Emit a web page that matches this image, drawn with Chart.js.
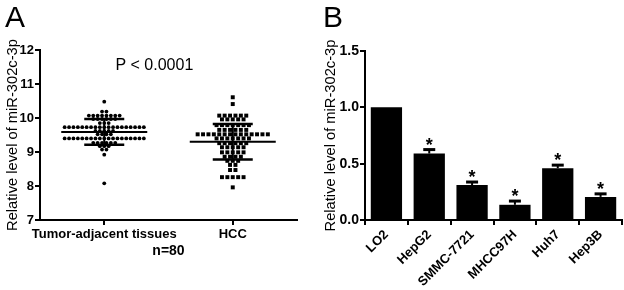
<!DOCTYPE html>
<html>
<head>
<meta charset="utf-8">
<script src="https://cdn.jsdelivr.net/npm/chart.js@4.4.0/dist/chart.umd.min.js"></script>
<style>
  body { margin: 0; background: #fff; width: 624px; height: 290px; position: relative; overflow: hidden;
         font-family: Arial, "Liberation Sans", sans-serif; }
  canvas { position: absolute; top: 0; }
  #chartA { left: 0; width: 318px; height: 290px; }
  #chartB { left: 318px; width: 306px; height: 290px; }
  .panel { position: absolute; font-size: 30px; line-height: 30px; color: #000; z-index: 2; }
</style>
</head>
<body>
<div class="panel" style="left:5px; top:2px;">A</div>
<div class="panel" style="left:323px; top:2px;">B</div>
<canvas id="chartA" width="318" height="290"></canvas>
<canvas id="chartB" width="306" height="290"></canvas>
<script>
// --- panel A : scatter dot plot ---
const groupsA = ['Tumor-adjacent tissues', 'HCC'];
const adjacentValues = [
  10.48,
  10.19, 10.19,
  10.07, 10.07, 10.07, 10.07, 10.07, 10.07, 10.07, 10.07,
  9.97, 9.97, 9.97, 9.97, 9.97, 9.97,
  9.85, 9.85, 9.85,
  9.73, 9.73, 9.73, 9.73, 9.73, 9.73, 9.73, 9.73, 9.73, 9.73, 9.73, 9.73, 9.73, 9.73, 9.73, 9.73, 9.73, 9.73, 9.73,
  9.62, 9.62, 9.62, 9.62, 9.62,
  9.52, 9.52, 9.52, 9.52,
  9.40, 9.40, 9.40, 9.40, 9.40, 9.40, 9.40, 9.40, 9.40, 9.40, 9.40, 9.40, 9.40, 9.40, 9.40, 9.40, 9.40, 9.40, 9.40,
  9.27, 9.27, 9.27, 9.27, 9.27, 9.27,
  9.17, 9.17, 9.17,
  9.07, 9.07,
  8.92,
  8.08
];
const hccValues = [
  10.61,
  10.41,
  10.07, 10.07, 10.07, 10.07, 10.07, 10.07,
  9.96, 9.96, 9.96, 9.96, 9.96,
  9.79, 9.79, 9.79, 9.79, 9.79, 9.79, 9.79,
  9.65, 9.65, 9.65, 9.65, 9.65, 9.65,
  9.52, 9.52, 9.52, 9.52, 9.52, 9.52, 9.52, 9.52, 9.52, 9.52, 9.52, 9.52, 9.52, 9.52,
  9.40, 9.40, 9.40, 9.40, 9.40, 9.40, 9.40,
  9.26, 9.26, 9.26, 9.26, 9.26, 9.26,
  9.14, 9.14, 9.14, 9.14, 9.14,
  8.99, 8.99, 8.99, 8.99, 8.99,
  8.86, 8.86, 8.86, 8.86,
  8.74, 8.74, 8.74,
  8.62, 8.62,
  8.47, 8.47,
  8.26, 8.26, 8.26, 8.26, 8.26,
  7.96
];
const groupMeans = [9.59, 9.30];
const groupSDs = [0.38, 0.52];
const pValueText = 'P < 0.0001';
const sampleText = 'n=80';

// --- panel B : bar chart ---
const cellLines = ['LO2', 'HepG2', 'SMMC-7721', 'MHCC97H', 'Huh7', 'Hep3B'];
const relLevels = [1.0, 0.59, 0.31, 0.135, 0.46, 0.205];
const relErrors = [0, 0.035, 0.027, 0.033, 0.027, 0.027];
const significant = [false, true, true, true, true, true];

const FONT = 'Arial, "Liberation Sans", sans-serif';
const axisGrid = { drawOnChartArea: false, drawTicks: true, tickLength: 5, color: '#000', lineWidth: 2 };
const axisBorder = { color: '#000', width: 2 };

// mean and SD lines over the dots
const meanSdPlugin = {
  id: 'meanSd',
  afterDatasetsDraw(chart) {
    const { ctx, scales: { x, y } } = chart;
    ctx.save();
    ctx.strokeStyle = '#000';
    groupMeans.forEach((m, i) => {
      const cx = x.getPixelForValue(i + 1);
      const my = y.getPixelForValue(m);
      const hi = y.getPixelForValue(m + groupSDs[i]);
      const lo = y.getPixelForValue(m - groupSDs[i]);
      ctx.lineWidth = 2;
      ctx.beginPath();
      ctx.moveTo(cx - 43, my); ctx.lineTo(cx + 43, my);
      ctx.moveTo(cx, hi); ctx.lineTo(cx, lo);
      ctx.stroke();
      ctx.lineWidth = 2.5;
      ctx.beginPath();
      ctx.moveTo(cx - 20, hi); ctx.lineTo(cx + 20, hi);
      ctx.moveTo(cx - 20, lo); ctx.lineTo(cx + 20, lo);
      ctx.stroke();
    });
    ctx.fillStyle = '#000';
    ctx.font = '16px ' + FONT;
    ctx.textAlign = 'center';
    ctx.textBaseline = 'middle';
    ctx.fillText(pValueText, x.getPixelForValue(1.39), y.getPixelForValue(11.53));
    ctx.restore();
  }
};

const chartA = new Chart(document.getElementById('chartA'), {
  type: 'scatter',
  data: {
    datasets: [
      { data: adjacentValues.map(v => ({ x: 1, y: v })), pointStyle: 'circle', pointRadius: 1.9,
        backgroundColor: '#000', borderWidth: 0 },
      { data: hccValues.map(v => ({ x: 2, y: v })), pointStyle: 'rect', pointRadius: 2.8,
        backgroundColor: '#000', borderWidth: 0 }
    ]
  },
  options: {
    responsive: false,
    animation: false,
    events: [],
    layout: { padding: { top: 50, right: 21, left: 0, bottom: 0 } },
    plugins: { legend: { display: false }, tooltip: { enabled: false } },
    scales: {
      x: {
        type: 'linear', min: 0.5, max: 2.5,
        afterBuildTicks: s => { s.ticks = [{ value: 1 }, { value: 2 }]; },
        afterFit: s => { s.height = 70; },
        ticks: { callback: v => groupsA[v - 1], autoSkip: false, maxRotation: 0, padding: 2,
                 color: '#000', font: { family: FONT, size: 13, weight: 'bold' } },
        grid: axisGrid, border: axisBorder,
        title: { display: true, text: sampleText, color: '#000', padding: { top: 0, bottom: 30 },
                 font: { family: FONT, size: 14, weight: 'bold' } }
      },
      y: {
        min: 7, max: 12,
        afterFit: s => { s.width = 40; },
        ticks: { stepSize: 1, padding: 1, color: '#000', font: { family: FONT, size: 13, weight: 'bold' } },
        grid: axisGrid, border: axisBorder,
        title: { display: true, text: 'Relative level of miR-302c-3p', color: '#000',
                 font: { family: FONT, size: 14.7 } }
      }
    }
  },
  plugins: [meanSdPlugin]
});

// spread equal values side by side, like a scatter dot plot
function spreadRows(chart, gaps) {
  const xs = chart.scales.x;
  chart.data.datasets.forEach((ds, i) => {
    const cx = xs.getPixelForValue(i + 1);
    const rows = {};
    ds.data.forEach(pt => { (rows[pt.y] = rows[pt.y] || []).push(pt); });
    Object.values(rows).forEach(row => {
      row.forEach((pt, k) => {
        pt.x = xs.getValueForPixel(cx + (k - (row.length - 1) / 2) * gaps[i]);
      });
    });
  });
  chart.update('none');
}
spreadRows(chartA, [4.4, 5.4]);

// error bars and asterisks for panel B
const errorPlugin = {
  id: 'errorBars',
  afterDatasetsDraw(chart) {
    const { ctx, scales: { x, y } } = chart;
    ctx.save();
    ctx.strokeStyle = '#000';
    ctx.fillStyle = '#000';
    ctx.font = 'bold 18px ' + FONT;
    ctx.textAlign = 'center';
    ctx.textBaseline = 'alphabetic';
    relLevels.forEach((v, i) => {
      const cx = x.getPixelForValue(i);
      const base = y.getPixelForValue(v);
      const top = y.getPixelForValue(v + relErrors[i]);
      if (relErrors[i] > 0) {
        ctx.lineWidth = 2;
        ctx.beginPath(); ctx.moveTo(cx, base); ctx.lineTo(cx, top); ctx.stroke();
        ctx.lineWidth = 3;
        ctx.beginPath(); ctx.moveTo(cx - 6, top); ctx.lineTo(cx + 6, top); ctx.stroke();
      }
      if (significant[i]) ctx.fillText('*', cx, top + 1);
    });
    ctx.restore();
  }
};

new Chart(document.getElementById('chartB'), {
  type: 'bar',
  data: {
    labels: cellLines,
    datasets: [{ data: relLevels, backgroundColor: '#000', borderWidth: 0,
                 categoryPercentage: 1, barPercentage: 0.73 }]
  },
  options: {
    responsive: false,
    animation: false,
    events: [],
    layout: { padding: { top: 51, right: 2, left: 0, bottom: 0 } },
    plugins: { legend: { display: false }, tooltip: { enabled: false } },
    scales: {
      x: {
        afterFit: s => { s.height = 70; },
        ticks: { minRotation: 45, maxRotation: 45, autoSkip: false, padding: 2,
                 color: '#000', font: { family: FONT, size: 13, weight: 'bold' } },
        grid: axisGrid, border: axisBorder
      },
      y: {
        min: 0, max: 1.5,
        afterFit: s => { s.width = 47; },
        ticks: { stepSize: 0.5, padding: 1, callback: v => v.toFixed(1),
                 color: '#000', font: { family: FONT, size: 14, weight: 'bold' } },
        grid: axisGrid, border: axisBorder,
        title: { display: true, text: 'Relative level of miR-302c-3p', color: '#000',
                 font: { family: FONT, size: 14.7 } }
      }
    }
  },
  plugins: [errorPlugin]
});
</script>
</body>
</html>
